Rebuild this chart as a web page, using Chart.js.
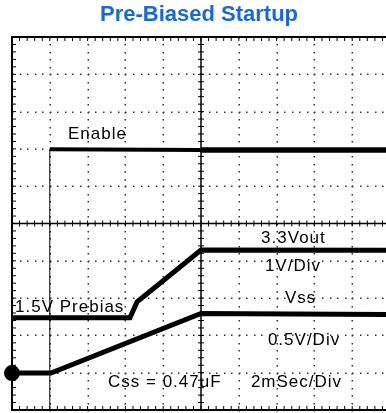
<!DOCTYPE html>
<html>
<head>
<meta charset="utf-8">
<script src="https://cdn.jsdelivr.net/npm/chart.js@4.4.1/dist/chart.umd.min.js"></script>
<style>
  html, body { margin: 0; padding: 0; background: #fff; overflow: hidden; }
  #scope { display: block; }
</style>
</head>
<body>
<canvas id="scope" width="386" height="413"></canvas>
<script>
// time in divisions (2 ms/div), amplitude in divisions
const enableX = [1.0, 1.0, 5.0, 10];
const enableY = [0, 6.99, 6.97, 6.97];

const voutX = [0, 3.12, 3.31, 5.0, 10];
const voutY = [2.47, 2.47, 2.9, 4.29, 4.28];

const vssX = [0, 1.03, 5.0, 10];
const vssY = [0.99, 0.99, 2.59, 2.56];

const noteText = ['Enable', '3.3Vout', '1V/Div', '1.5V Prebias', 'Vss', '0.5V/Div', 'Css = 0.47uF', '2mSec/Div'];
const noteX = [1.48, 6.59, 6.69, 0.08, 7.22, 6.77, 2.54, 6.32];
const noteY = [7.27, 4.47, 3.73, 2.64, 2.87, 1.74, 0.62, 0.62];

// the screen shows a little under ten divisions across
const visibleDivs = 9.894;

const toPoints = (xs, ys) => xs.map((x, i) => ({ x: x, y: ys[i] }));

// graticule: dotted divisions, solid centre cross and minor ticks
const graticule = {
  id: 'graticule',
  beforeDatasetsDraw(chart) {
    const { ctx, scales: { x, y } } = chart;
    const px = (v) => x.getPixelForValue(v);
    const py = (v) => y.getPixelForValue(v);
    ctx.save();
    ctx.fillStyle = '#333';
    for (let i = 1; i < 10; i++) {
      if (i === 5) continue;
      for (let k = 0; k <= 50; k++) {
        const t = k / 5;
        ctx.fillRect(Math.round(px(i)) - 0.5, Math.round(py(t)), 1.5, 1.5);
        ctx.fillRect(Math.round(px(t)), Math.round(py(i)) - 0.5, 1.5, 1.5);
      }
    }
    ctx.strokeStyle = '#000';
    ctx.lineWidth = 1.5;
    ctx.beginPath();
    ctx.moveTo(px(5), py(0)); ctx.lineTo(px(5), py(10));
    ctx.moveTo(px(0), py(5)); ctx.lineTo(px(10), py(5));
    ctx.stroke();
    ctx.lineWidth = 1;
    ctx.beginPath();
    for (let k = 1; k < 50; k++) {
      const t = k / 5;
      ctx.moveTo(px(t), py(5) - 3); ctx.lineTo(px(t), py(5) + 3);
      ctx.moveTo(px(5) - 3, py(t)); ctx.lineTo(px(5) + 3, py(t));
      ctx.moveTo(px(t), py(10)); ctx.lineTo(px(t), py(10) + 4);
      ctx.moveTo(px(t), py(0)); ctx.lineTo(px(t), py(0) - 4);
      ctx.moveTo(px(0), py(t)); ctx.lineTo(px(0) + 4, py(t));
    }
    ctx.stroke();
    ctx.lineWidth = 2;
    ctx.beginPath();
    ctx.moveTo(px(10), py(10)); ctx.lineTo(px(0), py(10));
    ctx.lineTo(px(0), py(0)); ctx.lineTo(px(10), py(0));
    ctx.stroke();
    ctx.restore();
  },
  afterDatasetsDraw(chart) {
    const { ctx, scales: { x, y } } = chart;
    ctx.save();
    ctx.fillStyle = '#000';
    ctx.font = '17px "Liberation Sans", Arial, sans-serif';
    ctx.letterSpacing = '1px';
    ctx.textAlign = 'left';
    ctx.textBaseline = 'alphabetic';
    noteText.forEach((txt, i) => {
      ctx.fillText(txt, x.getPixelForValue(noteX[i]), y.getPixelForValue(noteY[i]));
    });
    ctx.restore();
  }
};

new Chart(document.getElementById('scope'), {
  type: 'line',
  data: {
    datasets: [
      {
        label: 'Enable',
        data: toPoints(enableX, enableY),
        borderColor: '#000',
        pointRadius: 0,
        segment: {
          borderWidth: (c) => [1, 4, 5.5][c.p0DataIndex]
        }
      },
      {
        label: 'Vout',
        data: toPoints(voutX, voutY),
        borderColor: '#000',
        borderWidth: 5,
        pointRadius: 0
      },
      {
        label: 'Vss',
        data: toPoints(vssX, vssY),
        borderColor: '#000',
        backgroundColor: '#000',
        borderWidth: 5,
        clip: false,
        pointRadius: (c) => (c.dataIndex === 0 ? 5.5 : 0)
      }
    ]
  },
  options: {
    responsive: false,
    animation: false,
    layout: { autoPadding: false, padding: { left: 12, right: 0, top: 0, bottom: 3 } },
    plugins: {
      legend: { display: false },
      tooltip: { enabled: false },
      title: {
        display: true,
        text: 'Pre-Biased Startup',
        color: '#1b68cf',
        font: { family: '"Liberation Sans", Arial, sans-serif', size: 22, weight: 'bold' },
        padding: { top: 2, bottom: 8.6 }
      }
    },
    scales: {
      x: { type: 'linear', min: 0, max: visibleDivs, display: false },
      y: { type: 'linear', min: 0, max: 10, display: false }
    },
    elements: { line: { tension: 0 } }
  },
  plugins: [graticule]
});
</script>
</body>
</html>
